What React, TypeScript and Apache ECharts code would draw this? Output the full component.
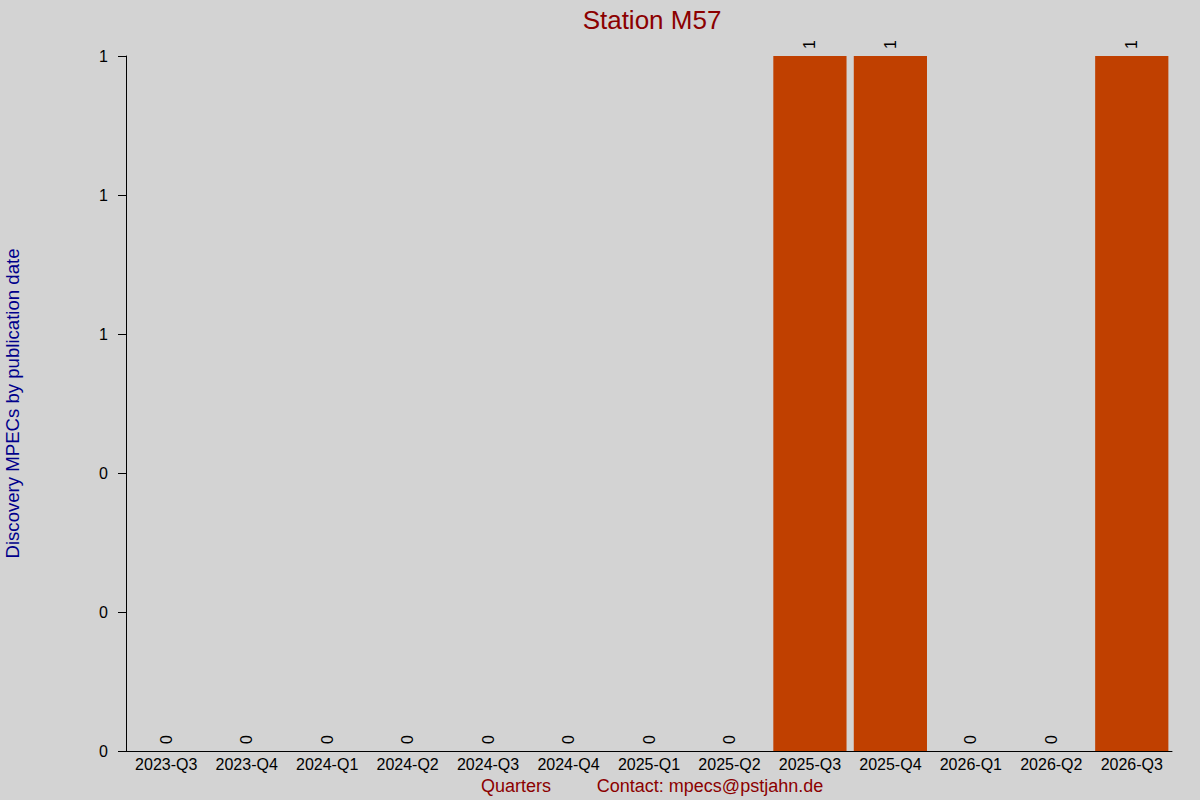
import React, { useEffect, useRef } from "react";
import * as echarts from "echarts";

const categories = [
  "2023-Q3", "2023-Q4", "2024-Q1", "2024-Q2", "2024-Q3", "2024-Q4", "2025-Q1",
  "2025-Q2", "2025-Q3", "2025-Q4", "2026-Q1", "2026-Q2", "2026-Q3",
];
const discoveries = [0, 0, 0, 0, 0, 0, 0, 0, 1, 1, 0, 0, 1];

const titleText = "Station M57";
const yAxisName = "Discovery MPECs by publication date";
const xAxisName = "Quarters";
const contactText = "Contact: mpecs@pstjahn.de";

const FONT = "Liberation Sans, Arial, sans-serif";

export default function App() {
  const ref = useRef<HTMLDivElement>(null);
  useEffect(() => {
    if (!ref.current) return;
    const chart = echarts.init(ref.current, undefined, { renderer: "svg" });
    chart.setOption({
      animation: false,
      backgroundColor: "#D3D3D3",
      textStyle: { fontFamily: FONT },
      title: {
        text: titleText,
        left: 647,
        top: 2,
        textAlign: "center",
        textStyle: { color: "#8B0000", fontSize: 26, fontWeight: "normal", fontFamily: FONT },
      },
      grid: {
        left: 126,
        right: 28,
        top: 56,
        bottom: 49,
        containLabel: false,
        outerBoundsMode: "none",
      },
      xAxis: {
        type: "category",
        data: categories,
        axisLine: { lineStyle: { color: "#000", width: 1 } },
        axisTick: { show: false },
        axisLabel: { color: "#000", fontSize: 16, margin: 5, fontFamily: FONT, interval: 0 },
        splitLine: { show: false },
      },
      yAxis: {
        type: "value",
        min: 0,
        max: 1,
        interval: 0.2,
        name: yAxisName,
        nameLocation: "middle",
        nameGap: 104,
        nameTextStyle: { color: "#00008B", fontSize: 18.6, fontFamily: FONT },
        axisLine: { show: true, lineStyle: { color: "#000", width: 1 } },
        axisTick: { show: true, length: 8, lineStyle: { color: "#000" } },
        axisLabel: {
          color: "#000",
          fontSize: 16,
          margin: 18,
          fontFamily: FONT,
          formatter: (v: number) => String(Math.round(v)),
        },
        splitLine: { show: false },
      },
      graphic: [
        {
          type: "text",
          x: 516,
          y: 786,
          style: {
            text: xAxisName,
            fill: "#8B0000",
            font: `18px ${FONT}`,
            textAlign: "center",
            textVerticalAlign: "middle",
          },
        },
        {
          type: "text",
          x: 710,
          y: 786,
          style: {
            text: contactText,
            fill: "#8B0000",
            font: `18px ${FONT}`,
            textAlign: "center",
            textVerticalAlign: "middle",
          },
        },
      ],
      series: [
        {
          type: "bar",
          data: discoveries,
          barCategoryGap: "9%",
          itemStyle: { color: "#C04000" },
          label: {
            show: true,
            position: "top",
            rotate: 90,
            distance: 7,
            color: "#000",
            fontSize: 16,
            fontFamily: FONT,
            align: "left",
            verticalAlign: "middle",
          },
        },
      ],
    });
    return () => chart.dispose();
  }, []);
  return <div ref={ref} style={{ width: 1200, height: 800, position: "absolute", left: 0, top: 0 }} />;
}
